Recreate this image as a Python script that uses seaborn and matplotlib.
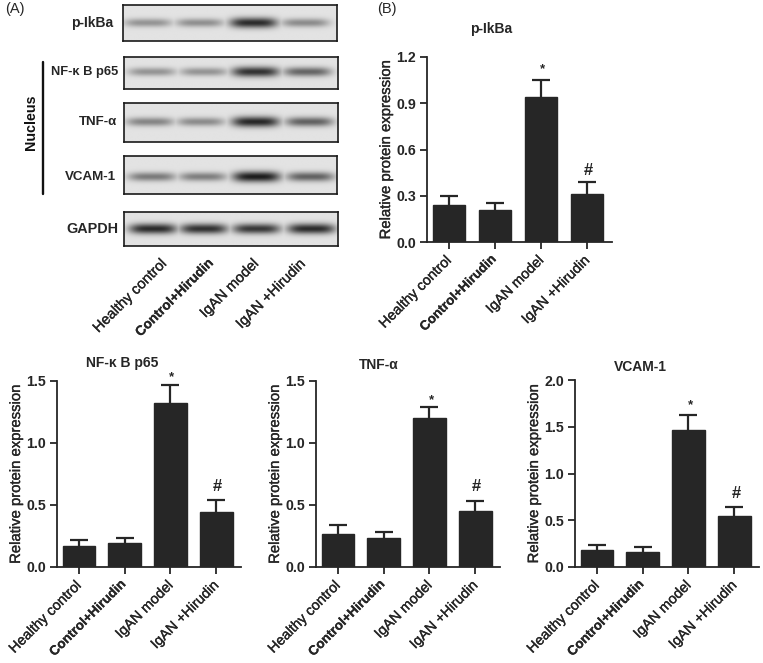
import numpy as np
import pandas as pd
import matplotlib
matplotlib.use("Agg")
import matplotlib.pyplot as plt
import matplotlib.patheffects as pe
from matplotlib.transforms import ScaledTranslation
import seaborn as sns

sns.set_theme(style="white")
plt.rcParams['font.family'] = ['Liberation Sans', 'DejaVu Sans']

W, H = 763, 663
groups = ["Healthy control", "Control+Hirudin", "IgAN model", "IgAN +Hirudin"]
ylabel = "Relative protein expression"

pikba_vals = [0.24, 0.21, 0.94, 0.31]
pikba_errs = [0.06, 0.04, 0.11, 0.08]
nfkb_vals = [0.17, 0.19, 1.32, 0.44]
nfkb_errs = [0.05, 0.04, 0.15, 0.10]
tnf_vals = [0.27, 0.23, 1.20, 0.45]
tnf_errs = [0.07, 0.05, 0.09, 0.08]
vcam_vals = [0.18, 0.16, 1.47, 0.55]
vcam_errs = [0.06, 0.05, 0.16, 0.09]

blot_names = ["p-IkBa", "NF-κ B p65", "TNF-α", "VCAM-1", "GAPDH"]
blot_d_pikba = [0.38, 0.40, 0.88, 0.42]
blot_d_nfkb = [0.38, 0.38, 0.85, 0.60]
blot_d_tnf = [0.45, 0.42, 0.90, 0.62]
blot_d_vcam = [0.50, 0.48, 0.95, 0.62]
blot_d_gapdh = [0.88, 0.85, 0.82, 0.88]


def axes_px(x0, y0, x1, y1):
    return fig.add_axes([x0 / W, 1 - y1 / H, (x1 - x0) / W, (y1 - y0) / H])


def fig_text(x, y, s, **kw):
    return fig.text(x / W, 1 - y / H, s, **kw)


fig = plt.figure(figsize=(W / 100, H / 100), dpi=100)
INK = "#262626"
HEAVY = [pe.withStroke(linewidth=0.25, foreground=INK)]
BOLD_STROKE = [pe.withStroke(linewidth=0.15, foreground=INK)]
title_y = {"p-IkBa": 29, "NF-κ B p65": 363, "TNF-α": 365, "VCAM-1": 367}


def bar_panel(box, title, vals, errs, ymax, ticks, fmt, title_x):
    ax = axes_px(*box)
    df = pd.DataFrame({"group": groups, "value": vals})
    sns.barplot(data=df, x="group", y="value", color=INK, saturation=1,
                width=0.71, errorbar=None, ax=ax, edgecolor=INK)
    x = np.arange(4)
    _, caps, _ = ax.errorbar(x, vals, yerr=[np.zeros(4), errs], fmt="none",
                             ecolor=INK, elinewidth=1.6, capsize=6.2, capthick=1.6)
    caps[0].set_visible(False)
    ax.set_xlim(-0.478, 3.54)
    ax.set_ylim(0, ymax)
    ax.set_yticks(ticks)
    ax.set_yticklabels([fmt % t for t in ticks], fontsize=10.2,
                       fontweight="bold", color=INK)
    ax.set_xticks(x)
    ax.set_xticklabels(groups, rotation=45, ha="right", rotation_mode="anchor",
                       fontsize=10.3, color=INK)
    ax.tick_params(axis="both", length=5, width=1.3, color=INK, pad=3,
                   left=True, bottom=True)
    shift = ScaledTranslation(-4.5 / 100, 0, fig.dpi_scale_trans)
    for i, lab in enumerate(ax.get_xticklabels()):
        lab.set_transform(lab.get_transform() + shift)
        if i == 1:
            lab.set_fontweight("bold")
            lab.set_fontsize(9.6)
            lab.set_path_effects(BOLD_STROKE)
        else:
            lab.set_path_effects(HEAVY)
    ax.set_xlabel("")
    ax.set_ylabel(ylabel, fontsize=10.7, color=INK, path_effects=HEAVY)
    ax.yaxis.set_label_coords(-34 / (box[2] - box[0]), 0.5)
    for s in ("top", "right"):
        ax.spines[s].set_visible(False)
    for s in ("left", "bottom"):
        ax.spines[s].set_color(INK)
        ax.spines[s].set_linewidth(1.3)
    fig_text(title_x, title_y[title], title, fontsize=10, fontweight="bold",
             color=INK, ha="center", va="center")
    return ax


def marks(ax, star_x, star_y, hash_x, hash_y):
    ax.text(star_x, star_y, "*", ha="center", va="bottom", fontsize=9.5,
            color=INK, fontweight="bold")
    ax.text(hash_x, hash_y, "#", ha="center", va="bottom", fontsize=12,
            color=INK, fontweight="bold")


a = bar_panel((427, 57, 612, 242), "p-IkBa", pikba_vals, pikba_errs, 1.2,
              [0, .3, .6, .9, 1.2], "%.1f", 491)
marks(a, 2.03, 1.08, 3.02, 0.415)
b = bar_panel((57, 381, 241, 567), "NF-κ B p65", nfkb_vals, nfkb_errs, 1.5,
              [0, .5, 1, 1.5], "%.1f", 122)
marks(b, 2.02, 1.48, 3.03, 0.59)
c = bar_panel((316, 381, 500, 567), "TNF-α", tnf_vals, tnf_errs, 1.5,
              [0, .5, 1, 1.5], "%.1f", 379)
marks(c, 2.04, 1.30, 3.03, 0.59)
d = bar_panel((575, 380, 759, 567), "VCAM-1", vcam_vals, vcam_errs, 2.0,
              [0, .5, 1, 1.5, 2], "%.1f", 640)
marks(d, 2.05, 1.67, 3.04, 0.71)

# ---- western blot strips, rendered from the band density lists ----
blot_boxes = [(123, 5, 337, 41), (124, 57, 338, 89), (124, 103, 338, 142),
              (124, 156, 337, 194), (124, 212, 338, 246)]
band_x = [[148, 200, 254, 306], [152, 204, 256, 308], [150, 201, 256, 310],
          [152, 203, 257, 311], [153, 204, 257, 312]]
band_y = [23, 72, 122, 177, 229]
blot_d = [blot_d_pikba, blot_d_nfkb, blot_d_tnf, blot_d_vcam, blot_d_gapdh]
label_right = [113, 118, 117.5, 116, 118]
label_size = [10, 9.3, 9.5, 9.6, 10.4]
for box, xs, yc, dens, name, lr, ls in zip(blot_boxes, band_x, band_y, blot_d,
                                           blot_names, label_right, label_size):
    ax = axes_px(*box)
    px = np.arange(box[0], box[2] + 1, 0.5)
    py = np.arange(box[1], box[3] + 1, 0.5)
    X, Y = np.meshgrid(px, py)
    dark = np.zeros_like(X)
    for xc, v in zip(xs, dens):
        sy = 3.6 + 2.0 * v
        prof = np.exp(-((np.abs(X - xc) / 24.0) ** 4)) * np.exp(-((Y - yc) / sy) ** 2)
        dark = np.maximum(dark, v * prof)
    ax.imshow(0.89 - 0.82 * dark, cmap="gray", vmin=0, vmax=1, aspect="auto",
              interpolation="bilinear")
    ax.set_xticks([])
    ax.set_yticks([])
    for s in ax.spines.values():
        s.set_visible(True)
        s.set_color("#1a1a1a")
        s.set_linewidth(1.2)
    fig_text(lr, yc, name, fontsize=ls, fontweight="bold", color=INK,
             ha="right", va="center")

# Nucleus bracket
fig.add_artist(plt.Line2D([42.5 / W, 42.5 / W], [1 - 62 / H, 1 - 194 / H],
                          color="#111111", lw=1.7))
fig_text(31, 122, "Nucleus", fontsize=10.3, fontweight="bold", rotation=90,
         color="#111111", ha="center", va="center")

# Blot lane labels
for gx, g, bold in zip([160, 206, 252, 299], groups, [False, True, False, False]):
    fig_text(gx, 256, g, rotation=45, ha="right", va="top",
             rotation_mode="anchor", fontsize=9.8 if bold else 10.5, color=INK,
             fontweight="bold" if bold else "normal",
             path_effects=BOLD_STROKE if bold else HEAVY)

fig_text(5, 9, "(A)", fontsize=10.5, color=INK, ha="left", va="center")
fig_text(377, 9, "(B)", fontsize=10.5, color=INK, ha="left", va="center")

fig.savefig("out.png", dpi=100)
